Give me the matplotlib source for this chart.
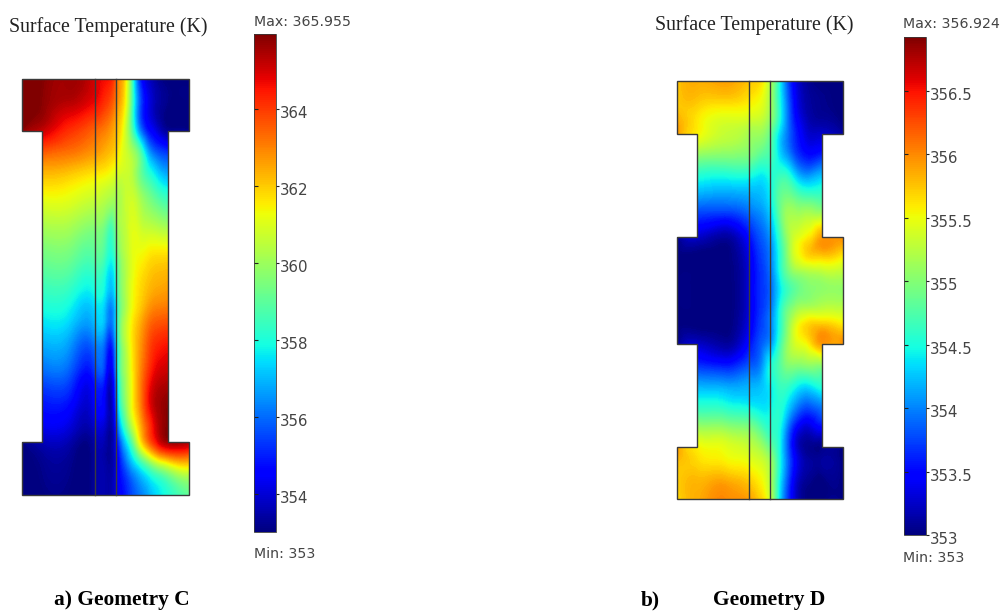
import numpy as np
import matplotlib
matplotlib.use("Agg")
import matplotlib.pyplot as plt
from matplotlib.patches import Polygon
from matplotlib.cm import ScalarMappable
from matplotlib.colors import Normalize
from matplotlib.transforms import ScaledTranslation
from matplotlib.tri import Triangulation, UniformTriRefiner

W, H = 1007, 611

# ---------- Geometry C ----------
c_x = [21, 42, 70, 94, 105, 114, 118, 124, 132, 140, 150, 158, 167, 189]
c_y = [79, 105, 131, 150, 170, 195, 225, 255, 285, 315, 345, 375, 405, 430, 442, 460, 478, 495]
c_T = [
    [366.0,365.9,365.6,365.0,364.6,363.9,362.9,362.0,358.5,355.0,353.7,353.2,353.0,353.0],
    [366.0,365.8,365.2,364.6,364.0,363.2,362.6,361.6,358.6,355.6,354.0,353.4,353.1,353.0],
    [365.8,365.1,364.1,363.4,363.0,362.4,362.0,361.0,358.8,356.3,354.6,353.9,353.3,353.1],
    [363.7,363.7,363.3,362.8,362.4,362.0,361.6,360.9,360.0,358.6,356.2,355.4,355.0,355.0],
    [362.4,362.4,362.2,361.8,361.6,361.2,361.0,360.8,360.4,359.2,357.8,357.0,356.5,356.5],
    [361.3,361.3,361.2,360.8,360.5,360.2,360.2,360.5,360.7,360.0,359.2,358.6,358.2,358.2],
    [360.2,360.2,360.2,359.7,359.3,359.0,359.9,360.4,361.0,360.7,360.4,360.2,360.0,360.0],
    [359.3,359.3,359.3,358.9,358.5,358.2,359.2,360.2,361.0,361.3,361.6,361.7,361.7,361.7],
    [358.5,358.5,358.4,358.0,357.7,357.4,358.7,360.0,361.1,361.7,362.2,362.4,362.5,362.5],
    [357.7,357.7,357.5,357.1,356.9,356.6,358.3,360.0,361.3,362.1,363.0,363.3,363.4,363.4],
    [356.8,356.8,356.5,356.0,355.7,355.7,358.0,360.0,361.5,362.6,363.8,364.3,364.5,364.5],
    [355.8,355.8,355.6,355.0,354.9,354.9,357.5,359.7,361.3,362.8,364.3,365.0,365.2,365.2],
    [354.8,354.8,354.6,354.3,354.2,354.3,356.8,359.2,361.2,362.8,364.7,365.5,365.8,365.8],
    [354.1,354.1,353.9,353.7,353.7,353.8,355.6,357.8,360.0,362.0,364.0,365.2,365.9,365.9],
    [353.0,353.6,353.5,353.4,353.5,353.7,354.9,356.8,358.8,361.3,363.5,364.7,365.5,365.4],
    [353.0,353.2,353.2,353.3,353.4,353.6,354.4,355.7,357.2,358.6,360.2,361.3,362.0,362.6],
    [353.0,353.1,353.1,353.3,353.5,353.7,354.3,355.0,355.9,356.7,357.6,358.2,358.8,360.0],
    [353.0,353.0,353.0,353.3,353.5,353.7,354.1,354.7,355.5,356.1,356.9,357.5,358.0,359.0],
]
c_outline_x = [21.5,188.5,188.5,167.5,167.5,188.5,188.5,21.5,21.5,42,42,21.5]
c_outline_y = [79,79,131,131,442,442,495,495,442,442,131,131]
c_layers = [94.5, 116]
c_ticks = [354, 356, 358, 360, 362, 364]
c_min, c_max = 353, 365.955

# ---------- Geometry D ----------
d_x = [676, 697, 725, 749, 760, 770, 778, 786, 797, 810, 822, 843]
d_y = [81, 100, 120, 134, 155, 175, 195, 215, 237, 255, 272, 290,
       308, 325, 344, 365, 385, 405, 425, 447, 460, 480, 499]
d_T = [
    [355.7,355.85,355.9,355.75,355.65,355.2,354.6,353.9,353.3,353.05,353.0,353.0],
    [355.7,355.75,355.7,355.6,355.5,355.15,354.6,354.0,353.35,353.1,353.05,353.0],
    [355.85,355.6,355.4,355.35,355.3,355.05,354.6,354.05,353.45,353.15,353.1,353.0],
    [355.95,355.55,355.3,355.15,355.1,354.85,354.4,354.0,353.55,353.25,353.25,353.1],
    [355.05,355.05,355.0,354.95,354.8,354.7,354.4,354.1,353.7,353.5,353.6,353.6],
    [354.55,354.55,354.5,354.5,354.4,354.5,354.6,354.6,354.2,354.05,354.2,354.2],
    [354.15,354.15,354.1,354.15,354.2,354.4,354.75,354.9,354.75,354.65,354.65,354.65],
    [353.7,353.7,353.65,353.85,354.0,354.25,354.7,355.1,355.15,355.2,355.2,355.2],
    [353.0,353.25,353.1,353.5,353.8,354.05,354.5,355.0,355.4,355.6,355.9,355.95],
    [353.0,353.0,353.0,353.35,353.7,353.95,354.4,354.9,355.45,355.7,355.75,355.6],
    [353.0,353.0,353.0,353.3,353.65,353.9,354.35,354.8,355.1,355.2,355.25,355.25],
    [353.0,353.0,353.0,353.3,353.65,353.85,354.25,354.6,354.85,355.0,355.05,355.05],
    [353.0,353.0,353.0,353.3,353.65,353.9,354.35,354.8,355.1,355.2,355.25,355.25],
    [353.0,353.0,353.0,353.35,353.7,353.95,354.4,354.9,355.45,355.7,355.75,355.6],
    [353.0,353.25,353.1,353.5,353.8,354.05,354.5,355.0,355.4,355.6,355.9,355.95],
    [353.65,353.65,353.55,353.8,353.95,354.45,354.7,354.95,355.0,355.05,355.05,355.05],
    [354.15,354.15,354.1,354.15,354.2,354.4,354.6,354.65,354.45,354.4,354.55,354.55],
    [354.55,354.55,354.5,354.4,354.35,354.4,354.55,354.4,354.0,353.85,354.0,354.0],
    [355.05,355.05,355.0,354.9,354.7,354.55,354.55,354.1,353.5,353.35,353.55,353.55],
    [355.95,355.55,355.45,355.3,355.15,354.85,354.55,353.95,353.25,353.05,353.05,353.0],
    [355.8,355.65,355.55,355.45,355.35,355.1,354.6,354.0,353.35,353.1,353.1,353.0],
    [355.7,355.8,355.85,355.7,355.55,355.2,354.55,353.9,353.25,353.05,353.0,353.0],
    [355.65,355.85,356.0,355.9,355.7,355.3,354.5,353.8,353.2,353.0,353.0,353.0],
]
d_outline_x = [676.5,842.7,842.7,822,822,842.7,842.7,822,822,842.7,842.7,676.5,676.5,697.3,697.3,676.5,676.5,697.3,697.3,676.5]
d_outline_y = [81.5,81.5,133.7,133.7,237.3,237.3,343.7,343.7,447,447,499,499,447,447,343.7,343.7,237.3,237.3,133.7,133.7]
d_layers = [749, 770]
d_ticks = [353, 353.5, 354, 354.5, 355, 355.5, 356, 356.5]
d_min, d_max = 353, 356.924

fig = plt.figure(figsize=(W/100, H/100), dpi=100, facecolor="white")
EDGE = "#3a3a3a"
SANS = "#444444"

def px_axes(x0, y0, x1, y1):
    return fig.add_axes([x0/W, 1-y1/H, (x1-x0)/W, (y1-y0)/H])

def panel(xs, ys, T, ox, oy, layers, vmin, vmax):
    ax = px_axes(min(xs)-2, min(ys)-2, max(xs)+2, max(ys)+2)
    ax.set_xlim(min(xs)-2, max(xs)+2)
    ax.set_ylim(max(ys)+2, min(ys)-2)
    ax.axis("off")
    X, Y = np.meshgrid(np.array(xs, float), np.array(ys, float))
    tri = Triangulation(X.ravel(), Y.ravel())
    fine_tri, fine_T = UniformTriRefiner(tri).refine_field(np.array(T, float).ravel(), subdiv=3)
    fine_T = np.clip(fine_T, vmin, vmax)
    cs = ax.tricontourf(fine_tri, fine_T, levels=np.linspace(vmin, vmax, 200), cmap="jet",
                        vmin=vmin, vmax=vmax, extend="both", antialiased=False)
    poly = Polygon(np.column_stack([ox, oy]), closed=True, fc="none", ec=EDGE, lw=1.0, zorder=5)
    ax.add_patch(poly)
    cs.set_clip_path(poly)
    ytop, ybot = min(oy), max(oy)
    for xl in layers:
        ax.plot([xl, xl], [ytop, ybot], color=EDGE, lw=1.0, zorder=6)

def cbar(x0, y0, x1, y1, vmin, vmax, ticks, fmt):
    cax = px_axes(x0, y0, x1, y1)
    sm = ScalarMappable(norm=Normalize(vmin, vmax), cmap="jet")
    cb = fig.colorbar(sm, cax=cax)
    cb.set_ticks(ticks)
    cb.set_ticklabels([fmt(t) for t in ticks])
    cb.outline.set_edgecolor(EDGE)
    cb.outline.set_linewidth(0.6)
    cax.tick_params(axis="y", right=True, length=2.2, width=0.8, color="#222222",
                    labelcolor=SANS, labelsize=10.8, pad=0.5)
    shift = ScaledTranslation(0, -3/100, fig.dpi_scale_trans)
    for lab in cax.get_yticklabels():
        lab.set_family("DejaVu Sans")
        lab.set_transform(lab.get_transform() + shift)
    cax.hlines(ticks, 0, 0.18, color="#222222", lw=0.8, transform=cax.get_yaxis_transform())

panel(c_x, c_y, c_T, c_outline_x, c_outline_y, c_layers, c_min, c_max)
panel(d_x, d_y, d_T, d_outline_x, d_outline_y, d_layers, d_min, d_max)

cbar(254, 33.6, 276, 532, c_min, c_max, c_ticks, lambda t: f"{t:g}")
cbar(903.5, 36.7, 926, 535, d_min, d_max, d_ticks, lambda t: f"{t:g}")

def txt(x, y, s, **kw):
    fig.text(x/W, 1-y/H, s, va="center", ha="left", **kw)

serif = dict(family="Liberation Serif", color="#222222")
txt(9, 27, "Surface Temperature (K)", fontsize=14.3, **serif)
txt(655, 25, "Surface Temperature (K)", fontsize=14.3, **serif)

sans = dict(family="DejaVu Sans", color=SANS, fontsize=10.2)
txt(254, 22.5, "Max: 365.955", **sans)
txt(254, 554, "Min: 353", **sans)
txt(903, 24, "Max: 356.924", **sans)
txt(903, 558, "Min: 353", **sans)

bold = dict(family="Liberation Serif", weight="bold", color="black", fontsize=15.4)
txt(54, 600, "a) Geometry C", **bold)
txt(641, 600, "b)", **bold)
txt(713, 600, "Geometry D", **bold)

fig.savefig("out.png", dpi=100)
